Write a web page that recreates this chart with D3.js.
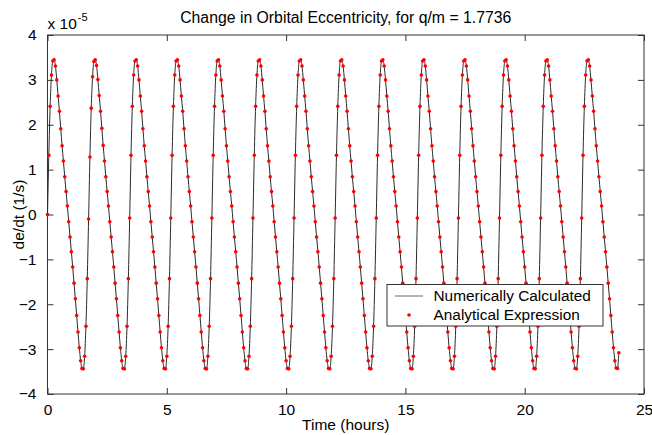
<!DOCTYPE html>
<html>
<head>
<meta charset="utf-8">
<script src="https://cdn.jsdelivr.net/npm/d3@7"></script>
<style>
  body { margin: 0; background: #fff; }
  svg text { font-family: "Liberation Sans", Arial, sans-serif; fill: #000; }
</style>
</head>
<body>
<div id="chart"></div>
<script>
// ticks
var xTicks = [0, 5, 10, 15, 20, 25];
var yTicks = [-4, -3, -2, -1, 0, 1, 2, 3, 4];

// samples every 200 s, values in units of 1e-5 1/s, one row per orbit
var stepSeconds = 200;
var dedt = [
  0.00, 1.32, 2.41, 3.11, 3.42, 3.45, 3.31, 3.00, 2.64, 2.30, 1.91, 1.53, 1.19, 0.84, 0.51, 0.19, -0.16, -0.50, -0.83, -1.17, -1.53, -1.88, -2.25, -2.62, -2.97, -3.26, -3.43, -3.44, -3.16, -2.49, -1.43,
  -0.10, 1.28, 2.37, 3.07, 3.41, 3.45, 3.32, 3.01, 2.65, 2.30, 1.92, 1.54, 1.19, 0.84, 0.51, 0.19, -0.16, -0.50, -0.83, -1.17, -1.53, -1.88, -2.25, -2.62, -2.97, -3.26, -3.43, -3.44, -3.16, -2.49, -1.43,
  -0.08, 1.32, 2.41, 3.11, 3.42, 3.45, 3.31, 3.00, 2.64, 2.30, 1.91, 1.53, 1.19, 0.84, 0.51, 0.19, -0.16, -0.50, -0.83, -1.17, -1.53, -1.88, -2.25, -2.62, -2.97, -3.26, -3.43, -3.44, -3.16, -2.49, -1.43,
  -0.08, 1.32, 2.41, 3.11, 3.42, 3.45, 3.31, 3.00, 2.64, 2.30, 1.91, 1.53, 1.19, 0.84, 0.51, 0.19, -0.16, -0.50, -0.83, -1.17, -1.53, -1.88, -2.25, -2.62, -2.97, -3.26, -3.43, -3.44, -3.16, -2.49, -1.43,
  -0.08, 1.32, 2.41, 3.11, 3.42, 3.45, 3.31, 3.00, 2.64, 2.30, 1.91, 1.53, 1.19, 0.84, 0.51, 0.19, -0.16, -0.50, -0.83, -1.17, -1.53, -1.88, -2.25, -2.62, -2.97, -3.26, -3.43, -3.44, -3.16, -2.49, -1.43,
  -0.08, 1.32, 2.41, 3.11, 3.42, 3.45, 3.31, 3.00, 2.64, 2.30, 1.91, 1.53, 1.19, 0.84, 0.51, 0.19, -0.16, -0.50, -0.83, -1.17, -1.53, -1.88, -2.25, -2.62, -2.97, -3.26, -3.43, -3.44, -3.16, -2.49, -1.43,
  -0.08, 1.32, 2.41, 3.11, 3.42, 3.45, 3.31, 3.00, 2.64, 2.30, 1.91, 1.53, 1.19, 0.84, 0.51, 0.19, -0.16, -0.50, -0.83, -1.17, -1.53, -1.88, -2.25, -2.62, -2.97, -3.26, -3.43, -3.44, -3.16, -2.49, -1.43,
  -0.08, 1.32, 2.41, 3.11, 3.42, 3.45, 3.31, 3.00, 2.64, 2.30, 1.91, 1.53, 1.19, 0.84, 0.51, 0.19, -0.16, -0.50, -0.83, -1.17, -1.53, -1.88, -2.25, -2.62, -2.97, -3.26, -3.43, -3.44, -3.16, -2.49, -1.43,
  -0.08, 1.32, 2.41, 3.11, 3.42, 3.45, 3.31, 3.00, 2.64, 2.30, 1.91, 1.53, 1.19, 0.84, 0.51, 0.19, -0.16, -0.50, -0.83, -1.17, -1.53, -1.88, -2.25, -2.62, -2.97, -3.26, -3.43, -3.44, -3.16, -2.49, -1.43,
  -0.08, 1.32, 2.41, 3.11, 3.42, 3.45, 3.31, 3.00, 2.64, 2.30, 1.91, 1.53, 1.19, 0.84, 0.51, 0.19, -0.16, -0.50, -0.83, -1.17, -1.53, -1.88, -2.25, -2.62, -2.97, -3.26, -3.43, -3.44, -3.16, -2.49, -1.43,
  -0.08, 1.32, 2.41, 3.11, 3.42, 3.45, 3.31, 3.00, 2.64, 2.30, 1.91, 1.53, 1.19, 0.84, 0.51, 0.19, -0.16, -0.50, -0.83, -1.17, -1.53, -1.88, -2.25, -2.62, -2.97, -3.26, -3.43, -3.44, -3.16, -2.49, -1.43,
  -0.08, 1.32, 2.41, 3.11, 3.42, 3.45, 3.31, 3.00, 2.64, 2.30, 1.91, 1.53, 1.19, 0.84, 0.51, 0.19, -0.16, -0.50, -0.83, -1.17, -1.53, -1.88, -2.25, -2.62, -2.97, -3.26, -3.43, -3.44, -3.16, -2.49, -1.43,
  -0.08, 1.32, 2.41, 3.11, 3.42, 3.45, 3.31, 3.00, 2.64, 2.30, 1.91, 1.53, 1.19, 0.84, 0.51, 0.19, -0.16, -0.50, -0.83, -1.17, -1.53, -1.88, -2.25, -2.62, -2.97, -3.26, -3.43, -3.44, -3.16, -2.49, -1.43,
  -0.08, 1.32, 2.41, 3.11, 3.42, 3.45, 3.31, 3.00, 2.64, 2.30, 1.91, 1.53, 1.19, 0.84, 0.51, 0.19, -0.16, -0.50, -0.83, -1.17, -1.53, -1.88, -2.25, -2.62, -2.97, -3.26, -3.42, -3.43, -3.08
];

var seriesNames = ["Numerically Calculated", "Analytical Expression"];

function drawChart(placement, w, h) {
    var margins = {top: 35, right: 8, bottom: 41, left: 47.5};
    var svg = d3.select(placement).append("svg")
        .attr("width", w).attr("height", h);

    var x = d3.scaleLinear().domain([0, 25]).range([margins.left, w - margins.right]);
    var y = d3.scaleLinear().domain([-4, 4]).range([h - margins.bottom, margins.top]);

    var points = dedt.map(function(v, i) { return {t: i * stepSeconds / 3600, v: v}; });

    // plot box
    svg.append("rect")
        .attr("x", x(0)).attr("y", y(4))
        .attr("width", x(25) - x(0)).attr("height", y(-4) - y(4))
        .attr("fill", "none").attr("stroke", "#333").attr("stroke-width", 1);

    function styleAxis(g, labels) {
        g.select(".domain").remove();
        g.selectAll(".tick line").attr("stroke", "#333");
        g.selectAll(".tick text").attr("font-size", "15.5px").attr("fill", "#000");
        if (!labels) g.selectAll(".tick text").remove();
    }

    svg.append("g").attr("transform", "translate(0," + y(-4) + ")")
        .call(d3.axisBottom(x).tickValues(xTicks).tickSizeInner(-6).tickSizeOuter(0).tickPadding(10))
        .call(styleAxis, true);
    svg.append("g").attr("transform", "translate(0," + y(4) + ")")
        .call(d3.axisTop(x).tickValues(xTicks).tickSizeInner(-6).tickSizeOuter(0))
        .call(styleAxis, false);
    svg.append("g").attr("transform", "translate(" + x(0) + ",0)")
        .call(d3.axisLeft(y).tickValues(yTicks).tickSizeInner(-6).tickSizeOuter(0).tickPadding(11))
        .call(styleAxis, true);
    svg.append("g").attr("transform", "translate(" + x(25) + ",0)")
        .call(d3.axisRight(y).tickValues(yTicks).tickSizeInner(-6).tickSizeOuter(0))
        .call(styleAxis, false);

    // curves
    var line = d3.line()
        .x(function(d) { return x(d.t); })
        .y(function(d) { return y(d.v); })
        .curve(d3.curveMonotoneX);

    svg.append("path").datum(points)
        .attr("d", line)
        .attr("fill", "none")
        .attr("stroke", "#2a2a2a")
        .attr("stroke-width", 1);

    svg.append("g").selectAll("circle")
        .data(points).enter().append("circle")
        .attr("cx", function(d) { return x(d.t); })
        .attr("cy", function(d) { return y(d.v); })
        .attr("r", 1.8)
        .attr("fill", "#ff0000");

    // exponent
    var expo = svg.append("text").attr("x", x(0)).attr("y", 28.5).attr("font-size", "15.5px");
    expo.append("tspan").text("x 10");
    expo.append("tspan").attr("font-size", "11px").attr("dy", -8).attr("dx", 1).text("-5");

    // title and labels
    svg.append("text")
        .attr("x", (x(0) + x(25)) / 2).attr("y", 23)
        .attr("text-anchor", "middle").attr("font-size", "15.8px")
        .text("Change in Orbital Eccentricity, for q/m = 1.7736");

    svg.append("text")
        .attr("x", (x(0) + x(25)) / 2).attr("y", 430)
        .attr("text-anchor", "middle").attr("font-size", "15.5px")
        .text("Time (hours)");

    svg.append("text")
        .attr("transform", "translate(24," + (y(0)) + ") rotate(-90)")
        .attr("text-anchor", "middle").attr("font-size", "15.5px")
        .text("de/dt (1/s)");

    // legend
    var legend = svg.append("g").attr("transform", "translate(387,284.5)");
    legend.append("rect")
        .attr("width", 216).attr("height", 41.5)
        .attr("fill", "#fff").attr("stroke", "#333").attr("stroke-width", 1);
    legend.append("line")
        .attr("x1", 8).attr("x2", 36).attr("y1", 11.5).attr("y2", 11.5)
        .attr("stroke", "#6a6a6a").attr("stroke-width", 1);
    legend.append("circle")
        .attr("cx", 22).attr("cy", 30.5).attr("r", 1.8).attr("fill", "#ff0000");
    legend.selectAll(".ltext")
        .data(seriesNames).enter().append("text")
        .attr("class", "ltext")
        .attr("x", 46.5)
        .attr("y", function(d, i) { return 16.5 + i * 19; })
        .attr("font-size", "15.4px")
        .text(function(d) { return d; });
}

drawChart("#chart", 652, 435);
</script>
</body>
</html>
